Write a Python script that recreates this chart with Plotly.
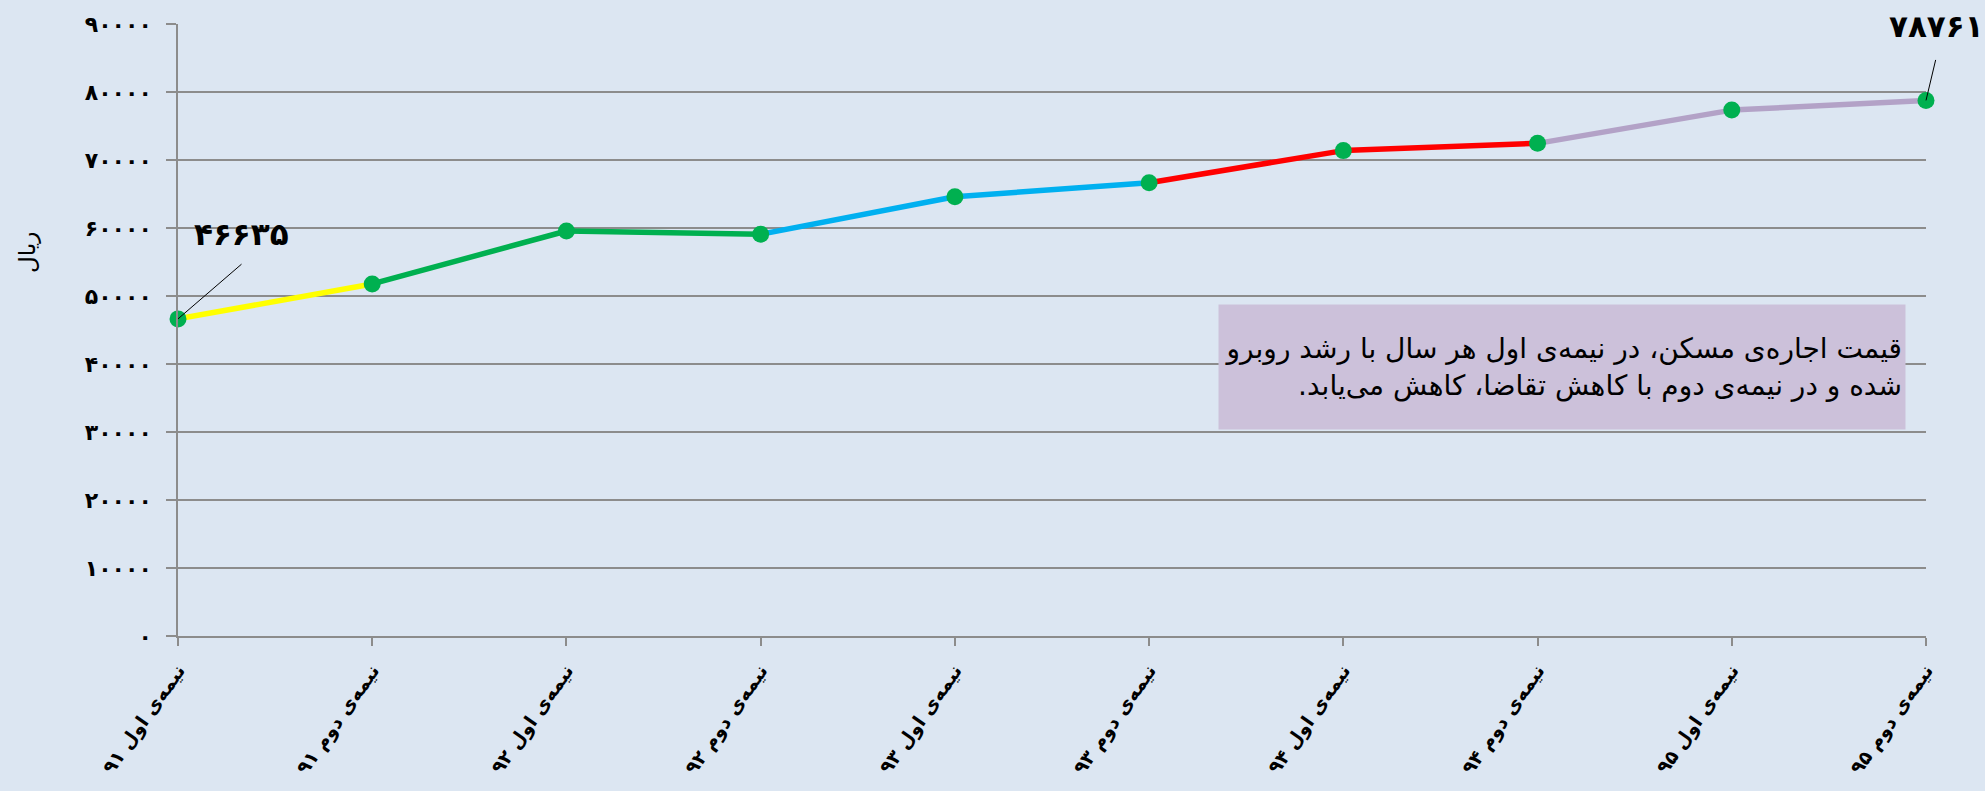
import plotly.graph_objects as go

categories = ["نیمه‌ی اول ۹۱", "نیمه‌ی دوم ۹۱", "نیمه‌ی اول ۹۲", "نیمه‌ی دوم ۹۲",
              "نیمه‌ی اول ۹۳", "نیمه‌ی دوم ۹۳", "نیمه‌ی اول ۹۴", "نیمه‌ی دوم ۹۴",
              "نیمه‌ی اول ۹۵", "نیمه‌ی دوم ۹۵"]
rent_values = [46635, 51770, 59560, 59090, 64600, 66660, 71380, 72450, 77340, 78761]
segment_colors = ["#FFFF00", "#00B050", "#00B050", "#00B0F0", "#00B0F0",
                  "#FF0000", "#FF0000", "#B3A2C7", "#B3A2C7"]
y_tick_values = [0, 10000, 20000, 30000, 40000, 50000, 60000, 70000, 80000, 90000]
y_title = "ریال"
note_lines = ["قیمت اجاره‌ی مسکن، در نیمه‌ی اول هر سال با رشد روبرو",
              "شده و در نیمه‌ی دوم با کاهش تقاضا، کاهش می‌یابد.\u200f"]

FA = str.maketrans("0123456789", "۰۱۲۳۴۵۶۷۸۹")
def fa(n):
    return str(n).translate(FA)

FONT = "DejaVu Sans"
GRID = "#8C8C8C"
BG = "#DCE6F2"

fig = go.Figure()
for i, col in enumerate(segment_colors):
    fig.add_trace(go.Scatter(
        x=categories[i:i + 2], y=rent_values[i:i + 2], mode="lines",
        line=dict(color=col, width=5.5), showlegend=False, hoverinfo="skip",
        cliponaxis=False))
fig.add_trace(go.Scatter(
    x=categories, y=rent_values, mode="markers",
    marker=dict(color="#00B050", size=17), showlegend=False, cliponaxis=False))

# data labels (leader line + text) for first and last points
for idx, (lx, ly, tx, ty) in [(0, (65, -56, 63, 85)), (len(rent_values) - 1, (10, -42, 10, 74))]:
    fig.add_annotation(x=categories[idx], y=rent_values[idx], text="",
                       showarrow=True, arrowhead=0, arrowwidth=1, arrowcolor="black",
                       ax=lx, ay=ly, standoff=0)
    fig.add_annotation(x=categories[idx], y=rent_values[idx],
                       text="<b>" + fa(rent_values[idx]) + "</b>", showarrow=False,
                       xshift=tx, yshift=ty, xanchor="center", yanchor="middle",
                       font=dict(family=FONT, size=31, color="black"))

# note box
fig.add_annotation(xref="paper", yref="paper", x=0.7918, y=0.4395,
                   xanchor="center", yanchor="middle",
                   text="<br>".join(note_lines), showarrow=False, align="right",
                   width=680, height=118, bgcolor="#CCC1DA", borderpad=3,
                   font=dict(family=FONT, size=28, color="black"))

# y title
fig.add_annotation(xref="paper", yref="paper", x=-0.0858, y=0.626, text=y_title,
                   xanchor="center", yanchor="middle",
                   textangle=-90, showarrow=False,
                   font=dict(family=FONT, size=23, color="black"))

fig.update_layout(
    width=1985, height=791,
    margin=dict(l=178, r=59, t=24, b=155, autoexpand=False),
    paper_bgcolor=BG, plot_bgcolor=BG,
    xaxis=dict(type="category", range=[0, len(categories) - 1], showgrid=False,
               automargin=False,
               tickvals=categories, ticktext=["<b>" + c + "</b>" for c in categories],
               showline=True, linecolor=GRID, linewidth=1.5,
               ticks="outside", ticklen=8, tickcolor=GRID, tickwidth=1.5,
               ticklabelstandoff=6,
               tickangle=-55, tickfont=dict(family=FONT, size=19, color="black"),
               zeroline=False),
    yaxis=dict(range=[0, 90000], tickvals=y_tick_values, automargin=False,
               ticktext=["<b>" + fa(v) + "</b>" for v in y_tick_values],
               showgrid=True, gridcolor=GRID, gridwidth=1.5,
               showline=True, linecolor=GRID, linewidth=1.5,
               ticks="outside", ticklen=10, tickcolor=GRID, tickwidth=1.5,
               ticklabelstandoff=10,
               tickfont=dict(family=FONT, size=22, color="black"),
               zeroline=False),
)

fig.write_html("out.html", config={"displayModeBar": False},
               post_script="document.body.style.margin='0';document.body.style.background='#DCE6F2';")
